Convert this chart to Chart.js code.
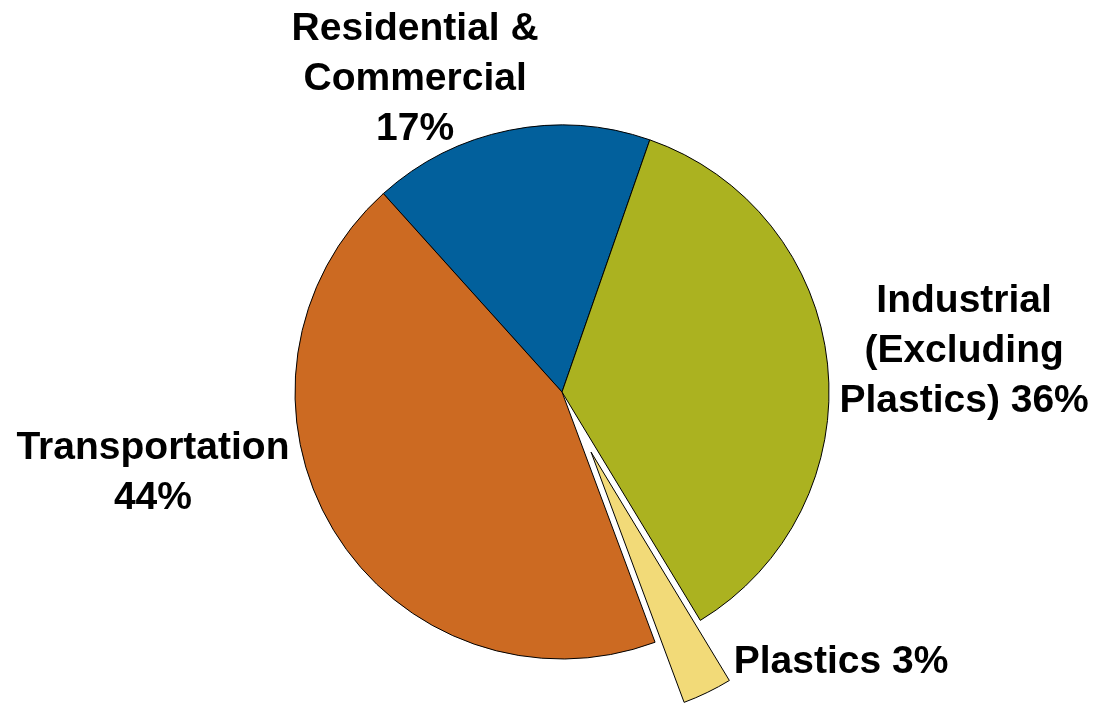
<!DOCTYPE html>
<html lang="en">
<head>
    <meta charset="UTF-8">
    <title>Energy Use by Sector</title>
    <script src="https://cdn.jsdelivr.net/npm/chart.js"></script>
    <style>
        html, body { margin: 0; padding: 0; background: #ffffff; }
        #chart { display: block; }
    </style>
</head>
<body>
    <canvas id="chart" width="1097" height="704"></canvas>

    <script>
        // Data
        const sectors = ["Residential & Commercial", "Industrial (Excluding Plastics)", "Plastics", "Transportation"];
        const shares = [17, 36, 3, 44];
        const sliceColors = ["#02609c", "#abb220", "#f2da78", "#cc6a22"];
        const labelLines = [
            ["Residential &", "Commercial", "17%"],
            ["Industrial", "(Excluding", "Plastics) 36%"],
            ["Plastics 3%"],
            ["Transportation", "44%"]
        ];
        const explodedSlice = 2; // Plastics pulled out

        // label anchor, in units of the pie radius from the centre
        const labelAnchor = [[-0.55, -1.172], [1.506, -0.152], [1.045, 1.011], [-1.532, 0.303]];

        // pulls one slice out along its middle angle
        const explodePlugin = {
            id: 'explode',
            beforeDatasetsDraw(chart) {
                const meta = chart.getDatasetMeta(0);
                const area = chart.chartArea;
                const cx = (area.left + area.right) / 2;
                const cy = (area.top + area.bottom) / 2;
                const arc = meta.data[explodedSlice];
                const mid = (arc.startAngle + arc.endAngle) / 2;
                const dist = arc.outerRadius * 0.25;
                arc.x = cx + Math.cos(mid) * dist;
                arc.y = cy + Math.sin(mid) * dist;
            }
        };

        // outside labels
        const labelPlugin = {
            id: 'sliceLabels',
            afterDatasetsDraw(chart) {
                const ctx = chart.ctx;
                const area = chart.chartArea;
                const cx = (area.left + area.right) / 2;
                const cy = (area.top + area.bottom) / 2;
                const r = chart.getDatasetMeta(0).data[0].outerRadius;
                const lineH = 50;
                ctx.save();
                ctx.fillStyle = "#000";
                ctx.font = 'bold 39px "Liberation Sans", Arial, Helvetica, sans-serif';
                ctx.textBaseline = "middle";
                ctx.textAlign = "center";
                labelLines.forEach((lines, i) => {
                    const x = cx + labelAnchor[i][0] * r;
                    const y = cy + labelAnchor[i][1] * r;
                    const top = y - (lines.length - 1) * lineH / 2;
                    lines.forEach((t, j) => ctx.fillText(t, x, top + j * lineH));
                });
                ctx.restore();
            }
        };

        new Chart(document.getElementById('chart').getContext('2d'), {
            type: 'pie',
            data: {
                labels: sectors,
                datasets: [{
                    data: shares,
                    backgroundColor: sliceColors,
                    borderColor: "#000",
                    borderWidth: 1,
                    borderJoinStyle: 'miter'
                }]
            },
            options: {
                responsive: false,
                animation: false,
                events: [],
                rotation: -42,
                radius: 267,
                layout: { padding: { top: 80, bottom: 0, left: 27, right: 0 } },
                plugins: {
                    legend: { display: false },
                    tooltip: { enabled: false }
                }
            },
            plugins: [explodePlugin, labelPlugin]
        });
    </script>
</body>
</html>
